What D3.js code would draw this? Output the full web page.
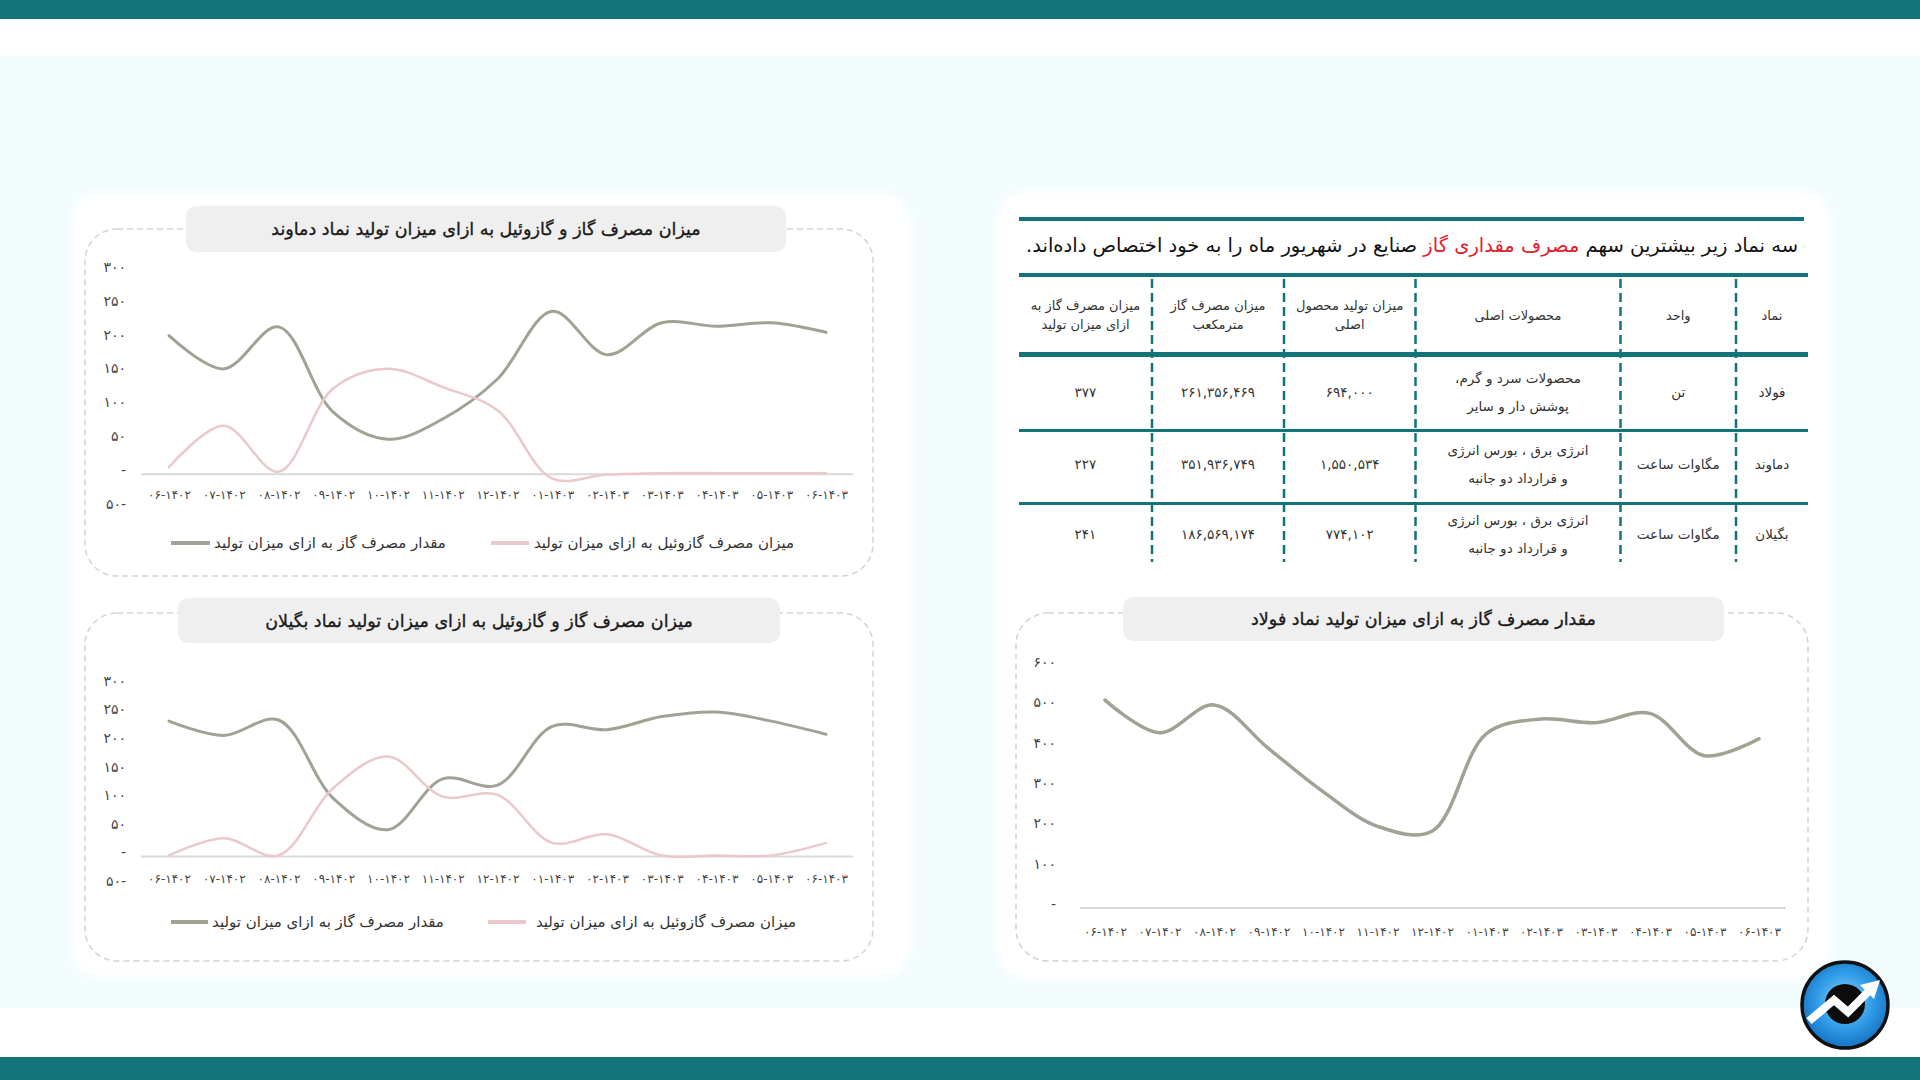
<!DOCTYPE html>
<html><head><meta charset="utf-8">
<script src="https://cdn.jsdelivr.net/npm/d3@7"></script>
<style>
html,body{margin:0;padding:0;background:#fff;}
svg{display:block;font-family:"DejaVu Sans",sans-serif;}
</style></head>
<body>
<svg id="c" width="1920" height="1080"></svg>
<script>
// ---------- data ----------
const categories = ['۰۶-۱۴۰۲','۰۷-۱۴۰۲','۰۸-۱۴۰۲','۰۹-۱۴۰۲','۱۰-۱۴۰۲','۱۱-۱۴۰۲','۱۲-۱۴۰۲','۰۱-۱۴۰۳','۰۲-۱۴۰۳','۰۳-۱۴۰۳','۰۴-۱۴۰۳','۰۵-۱۴۰۳','۰۶-۱۴۰۳'];
const damavandGas    = [203,154,216,90,50,80,139,239,175,222,217,222,208];
const damavandGasoil = [9,70,2,125,154,127,93,-8,-2,0,0,0,0];
const bagilanGas     = [235,210,237,100,45,134,123,226,220,243,251,235,212];
const bagilanGasoil  = [0,30,0,118,173,103,106,22,37,0,0,0,22];
const fooladGas      = [513,432,501,393,286,200,188,430,466,457,480,375,417];
const ticksSmall = [-50,0,50,100,150,200,250,300];
const ticksFoolad = [0,100,200,300,400,500,600];
const legendGas = 'مقدار مصرف گاز به ازای میزان تولید';
const legendGasoil = 'میزان مصرف گازوئیل به ازای میزان تولید';
const titleDamavand = 'میزان مصرف گاز و گازوئیل به ازای میزان تولید نماد دماوند';
const titleBagilan = 'میزان مصرف گاز و گازوئیل به ازای میزان تولید نماد بگیلان';
const titleFoolad = 'مقدار مصرف گاز به ازای میزان تولید نماد فولاد';
const tableHeaders = [['نماد'],['واحد'],['محصولات اصلی'],['میزان تولید محصول','اصلی'],['میزان مصرف گاز','مترمکعب'],['میزان مصرف گاز به','ازای میزان تولید']];
const tableRows = [
  [['فولاد'],['تن'],['محصولات سرد و گرم،','پوشش دار و سایر'],['۶۹۴,۰۰۰'],['۲۶۱,۳۵۶,۴۶۹'],['۳۷۷']],
  [['دماوند'],['مگاوات ساعت'],['انرژی برق ، بورس انرژی','و قرارداد دو جانبه'],['۱,۵۵۰,۵۳۴'],['۳۵۱,۹۳۶,۷۴۹'],['۲۲۷']],
  [['بگیلان'],['مگاوات ساعت'],['انرژی برق ، بورس انرژی','و قرارداد دو جانبه'],['۷۷۴,۱۰۲'],['۱۸۶,۵۶۹,۱۷۴'],['۲۴۱']]
];
const headlineA = 'سه نماد زیر بیشترین سهم ';
const headlineRed = 'مصرف مقداری گاز';
const headlineB = ' صنایع در  شهریور ماه را به خود اختصاص داده‌اند.';

// ---------- helpers ----------
const TEAL = '#127479', GREY_LINE = '#9ea393', PINK_LINE = '#ebc8ca';
const fa = s => String(s).replace(/\d/g, d => '۰۱۲۳۴۵۶۷۸۹'[d]);
const tickFmt = v => v === 0 ? '-' : (v < 0 ? fa(Math.abs(v)) + '-' : fa(v));

const svg = d3.select('#c');
const defs = svg.append('defs');
defs.append('filter').attr('id','soft').attr('x','-5%').attr('y','-5%').attr('width','110%').attr('height','110%')
  .append('feGaussianBlur').attr('stdDeviation',4);
const rg = defs.append('radialGradient').attr('id','logoG').attr('cx','50%').attr('cy','45%').attr('r','55%');
rg.append('stop').attr('offset','0%').attr('stop-color','#8fd3ff');
rg.append('stop').attr('offset','60%').attr('stop-color','#2f9be6');
rg.append('stop').attr('offset','100%').attr('stop-color','#1673c4');

// ---------- background ----------
svg.append('rect').attr('width',1920).attr('height',1080).attr('fill','#ffffff');
svg.append('rect').attr('x',0).attr('y',56).attr('width',1920).attr('height',952).attr('fill','#f3fcfd');
svg.append('rect').attr('x',0).attr('y',0).attr('width',1920).attr('height',19).attr('fill',TEAL);
svg.append('rect').attr('x',0).attr('y',1057).attr('width',1920).attr('height',23).attr('fill',TEAL);

// panels
[[72,192,838,786],[998,190,832,790]].forEach(p=>{
  svg.append('rect').attr('x',p[0]).attr('y',p[1]).attr('width',p[2]).attr('height',p[3])
    .attr('rx',30).attr('fill','#ffffff').attr('filter','url(#soft)');
});

// ---------- line chart builder ----------
function lineChart(o){
  const g = svg.append('g');
  g.append('rect').attr('x',o.box[0]).attr('y',o.box[1]).attr('width',o.box[2]).attr('height',o.box[3])
    .attr('rx',32).attr('fill','none').attr('stroke','#d4d4d4').attr('stroke-width',1.5).attr('stroke-dasharray','6,4');
  g.append('rect').attr('x',o.tbox[0]).attr('y',o.tbox[1]).attr('width',o.tbox[2]).attr('height',o.tbox[3])
    .attr('rx',10).attr('fill','#efefef');
  g.append('text').attr('x',o.tbox[0]+o.tbox[2]/2).attr('y',o.tbox[1]+o.tbox[3]/2+1)
    .attr('text-anchor','middle').attr('dominant-baseline','middle').attr('direction','rtl')
    .attr('font-size',17.5).attr('font-weight',400).attr('fill','#1a1a1a')
    .attr('stroke','#1a1a1a').attr('stroke-width',0.35).text(o.title);

  const x = d3.scalePoint().domain(categories).range(o.xr);
  const y = d3.scaleLinear().domain(o.yd).range(o.yr);

  // baseline
  g.append('line').attr('x1',o.base[0]).attr('x2',o.base[1]).attr('y1',y(0)+1).attr('y2',y(0)+1)
    .attr('stroke','#d9d9d9').attr('stroke-width',2);

  const ya = d3.axisLeft(y).tickValues(o.ticks).tickFormat(tickFmt).tickSize(0).tickPadding(0);
  const yg = g.append('g').attr('transform',`translate(${o.ylab},0)`).call(ya);
  yg.select('.domain').remove();
  yg.selectAll('text').attr('font-size',14).attr('fill','#444').attr('direction','ltr').attr('dy','0.1em')
    .attr('font-family','"DejaVu Sans",sans-serif');

  const xa = d3.axisBottom(x).tickSize(0).tickPadding(0);
  const xg = g.append('g').attr('transform',`translate(0,${o.xlab})`).call(xa);
  xg.select('.domain').remove();
  xg.selectAll('text').attr('font-size',12).attr('fill','#444').attr('direction','ltr')
    .attr('font-family','"DejaVu Sans",sans-serif');

  const line = d3.line().x((d,i)=>x(categories[i])).y(d=>y(d)).curve(d3.curveCatmullRom.alpha(0.5));
  o.series.forEach(s=>{
    g.append('path').datum(s.values).attr('d',line).attr('fill','none')
      .attr('stroke',s.color).attr('stroke-width',s.w).attr('stroke-linecap','round');
  });

  if(o.legend){
    o.legend.forEach(l=>{
      g.append('line').attr('x1',l.x1).attr('x2',l.x2).attr('y1',l.y).attr('y2',l.y)
        .attr('stroke',l.color).attr('stroke-width',4);
      g.append('text').attr('x',l.tx).attr('y',l.y).attr('dominant-baseline','middle')
        .attr('text-anchor','middle').attr('direction','rtl')
        .attr('font-size',15).attr('fill','#333').text(l.text);
    });
  }
}

// Damavand
lineChart({
  box:[85,229,788,347], tbox:[186,206,600,46], title:titleDamavand,
  xr:[169,826], yd:[-50,300], yr:[507,270], ticks:ticksSmall, ylab:126, xlab:490, base:[141,853],
  series:[{values:damavandGas,color:GREY_LINE,w:3},{values:damavandGasoil,color:PINK_LINE,w:2.5}],
  legend:[{x1:171,x2:210,y:543,color:GREY_LINE,text:legendGas,tx:330},
          {x1:491,x2:529,y:543,color:PINK_LINE,text:legendGasoil,tx:664}]
});
// Bagilan
lineChart({
  box:[85,613,788,348], tbox:[178,598,602,45], title:titleBagilan,
  xr:[169,826], yd:[-50,300], yr:[884,684], ticks:ticksSmall, ylab:126, xlab:874, base:[141,853],
  series:[{values:bagilanGas,color:GREY_LINE,w:3},{values:bagilanGasoil,color:PINK_LINE,w:2.5}],
  legend:[{x1:171,x2:208,y:922,color:GREY_LINE,text:legendGas,tx:328},
          {x1:488,x2:526,y:922,color:PINK_LINE,text:legendGasoil,tx:666}]
});
// Foolad
lineChart({
  box:[1016,613,792,348], tbox:[1123,597,601,44], title:titleFoolad,
  xr:[1105,1759], yd:[0,600], yr:[907,665], ticks:ticksFoolad, ylab:1056, xlab:927, base:[1080,1786],
  series:[{values:fooladGas,color:GREY_LINE,w:3.5}]
});

// ---------- table ----------
const tg = svg.append('g');
tg.append('rect').attr('x',1019).attr('y',217).attr('width',785).attr('height',4).attr('fill',TEAL);
const head = tg.append('text').attr('x',1798).attr('y',246).attr('direction','rtl').attr('text-anchor','start')
  .attr('dominant-baseline','middle').attr('font-size',19.5).attr('fill','#111');
head.append('tspan').text(headlineA);
head.append('tspan').attr('fill','#e0202a').text(headlineRed);
head.append('tspan').text(headlineB);

tg.append('rect').attr('x',1019).attr('y',273).attr('width',789).attr('height',4).attr('fill',TEAL);
tg.append('rect').attr('x',1019).attr('y',352).attr('width',789).attr('height',5).attr('fill',TEAL);
tg.append('rect').attr('x',1019).attr('y',429).attr('width',789).attr('height',3).attr('fill',TEAL);
tg.append('rect').attr('x',1019).attr('y',502).attr('width',789).attr('height',3).attr('fill',TEAL);
const colEdges = [1808,1736,1620.5,1415.5,1284,1152,1019];
colEdges.slice(1,-1).forEach(cx=>{
  tg.append('line').attr('x1',cx).attr('x2',cx).attr('y1',279).attr('y2',562)
    .attr('stroke',TEAL).attr('stroke-width',2.5).attr('stroke-dasharray','9,5');
});
const colCenters = colEdges.slice(0,-1).map((e,i)=>(e+colEdges[i+1])/2);
function cell(lines, cx, cy, gap, size){
  lines.forEach((t,k)=>{
    tg.append('text').attr('x',cx).attr('y',cy + (k-(lines.length-1)/2)*gap)
      .attr('text-anchor','middle').attr('dominant-baseline','middle').attr('direction','rtl')
      .attr('font-size',size).attr('fill','#333').text(t);
  });
}
tableHeaders.forEach((h,i)=>cell(h,colCenters[i],316,19,13));
const rowY = [393,465,535];
tableRows.forEach((r,ri)=>r.forEach((c,ci)=>cell(c,colCenters[ci],rowY[ri],28,13.5)));

// ---------- logo ----------
const lg = svg.append('g');
lg.append('circle').attr('cx',1845).attr('cy',1005).attr('r',43).attr('fill','url(#logoG)').attr('stroke','#111').attr('stroke-width',3.5);
lg.append('circle').attr('cx',1845).attr('cy',1004).attr('r',20).attr('fill','#0c0c0c');
lg.append('polyline').attr('points','1809,1021 1834,1000 1848,1012 1868,992')
  .attr('fill','none').attr('stroke','#fff').attr('stroke-width',8).attr('stroke-linejoin','miter');
lg.append('polygon').attr('points','1880,980 1860,985 1874,999').attr('fill','#fff');
</script>
</body></html>
